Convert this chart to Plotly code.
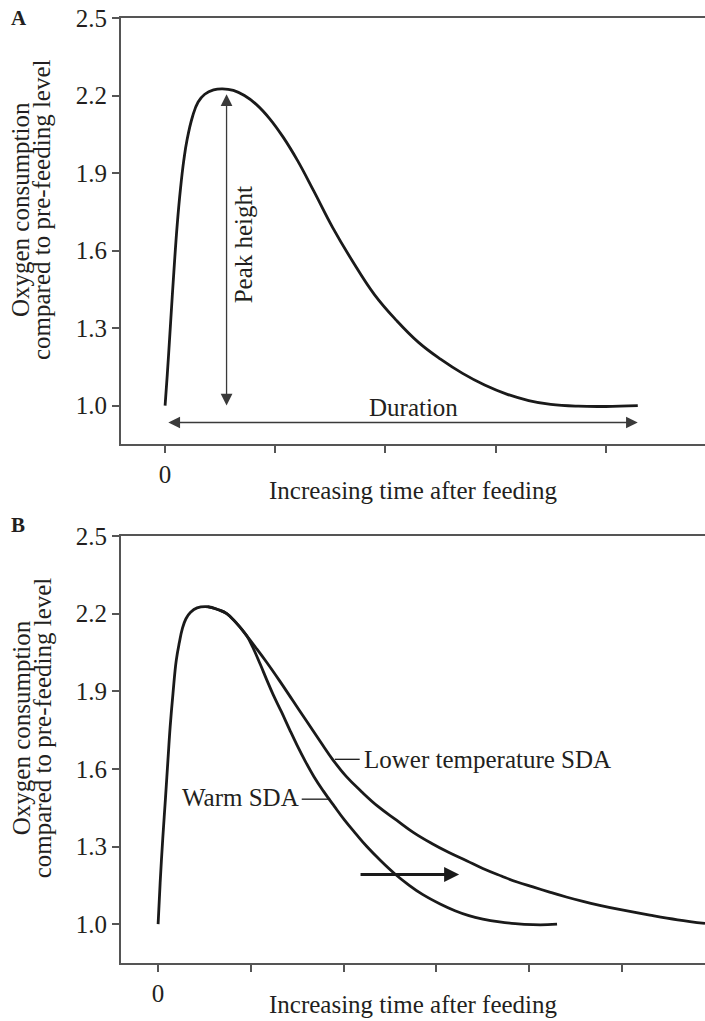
import plotly.graph_objects as go

# ---------------- data ----------------
# Panel A: single SDA curve (time in tick units after feeding, O2 relative to pre-feeding)
time_a = [0, 0.02, 0.05, 0.08, 0.11, 0.14, 0.17, 0.2, 0.25, 0.3, 0.36, 0.44, 0.52, 0.62,
          0.72, 0.83, 0.95, 1.07, 1.2, 1.35, 1.52, 1.7, 1.9, 2.1, 2.3, 2.5, 2.7, 2.9, 3.1,
          3.3, 3.5, 3.75, 4.0, 4.29]
o2_a = [1.0, 1.12, 1.32, 1.52, 1.70, 1.84, 1.95, 2.03, 2.12, 2.175, 2.205, 2.222, 2.226,
        2.22, 2.20, 2.165, 2.11, 2.04, 1.95, 1.83, 1.69, 1.56, 1.43, 1.33, 1.245, 1.18,
        1.125, 1.08, 1.045, 1.02, 1.005, 0.998, 0.997, 1.0]

# Panel B: warm SDA
time_warm = [0, 0.022, 0.05, 0.08, 0.106, 0.13, 0.16, 0.196, 0.23, 0.26, 0.30, 0.35, 0.42,
             0.537, 0.65, 0.74, 0.84, 0.95, 1.02, 1.1, 1.17, 1.24, 1.33, 1.42, 1.5, 1.58,
             1.68, 1.78, 1.9, 2.01, 2.13, 2.25, 2.4, 2.55, 2.7, 2.85, 3.04, 3.2, 3.35, 3.5,
             3.68, 3.85, 4.04, 4.2, 4.30]
o2_warm = [1.0, 1.16, 1.33, 1.49, 1.634, 1.763, 1.89, 2.02, 2.09, 2.14, 2.18, 2.205, 2.222,
           2.2265, 2.215, 2.20, 2.165, 2.117, 2.07, 2.005, 1.945, 1.887, 1.82, 1.75, 1.69,
           1.634, 1.57, 1.515, 1.455, 1.402, 1.35, 1.30, 1.245, 1.195, 1.152, 1.115, 1.078,
           1.052, 1.033, 1.02, 1.009, 1.002, 0.998, 0.998, 1.0]

# Panel B: lower temperature SDA (shares the peak, then decays more slowly)
time_low = [0.537, 0.65, 0.74, 0.84, 0.95, 1.05, 1.17, 1.31, 1.45, 1.6, 1.75, 1.886, 2.03,
            2.19, 2.37, 2.57, 2.75, 2.95, 3.13, 3.325, 3.5, 3.7, 3.87, 4.04, 4.22, 4.4,
            4.58, 4.76, 5.0, 5.3, 5.6, 5.895]
o2_low = [2.2265, 2.215, 2.20, 2.165, 2.117, 2.07, 2.012, 1.94, 1.865, 1.785, 1.705, 1.634,
          1.57, 1.513, 1.455, 1.402, 1.355, 1.312, 1.278, 1.245, 1.215, 1.186, 1.163, 1.144,
          1.124, 1.105, 1.088, 1.073, 1.055, 1.035, 1.017, 1.003]

# axis ticks
y_ticks = [1.0, 1.3, 1.6, 1.9, 2.2, 2.5]
y_ticklabels = ["1.0", "1.3", "1.6", "1.9", "2.2", "2.5"]
x_ticks_a = [0, 1, 2, 3, 4]
x_ticks_b = [0, 1, 2, 3, 4, 5]

# annotation anchors (data units)
peak_arrow_t = [0.558, 0.558]
peak_arrow_v = [2.205, 0.995]
duration_arrow_t = [0.016, 4.29]
duration_arrow_v = [0.935, 0.935]
shift_arrow_t = [2.166, 3.245]
shift_arrow_v = [1.192, 1.192]
leader_low_t = [1.905, 2.173]
leader_low_v = [1.637, 1.637]
leader_warm_t = [1.548, 1.855]
leader_warm_v = [1.483, 1.483]

# ---------------- styling ----------------
FONT = "Liberation Serif"
TXT = "#231f20"
AXC = "#555555"
CURVE = "#1a1a1a"
ARR = "#3a3a3a"
FS = 25

fig = go.Figure()

curve_style = dict(color=CURVE, width=2.8, shape="spline", smoothing=1.2)

fig.add_trace(go.Scatter(x=time_a, y=o2_a, mode="lines", line=curve_style,
                         xaxis="x", yaxis="y", showlegend=False, hoverinfo="skip"))
fig.add_trace(go.Scatter(x=time_warm, y=o2_warm, mode="lines", line=curve_style,
                         xaxis="x2", yaxis="y2", showlegend=False, hoverinfo="skip"))
fig.add_trace(go.Scatter(x=time_low, y=o2_low, mode="lines", line=curve_style,
                         xaxis="x2", yaxis="y2", showlegend=False, hoverinfo="skip"))
# leader lines for labels
for lt, lv in [(leader_low_t, leader_low_v), (leader_warm_t, leader_warm_v)]:
    fig.add_trace(go.Scatter(x=lt, y=lv, mode="lines", line=dict(color=CURVE, width=1.3),
                             xaxis="x2", yaxis="y2", showlegend=False, hoverinfo="skip"))

axis_common = dict(showgrid=False, zeroline=False, showline=True, linecolor=AXC,
                   linewidth=1.8, ticks="outside", ticklen=7, tickwidth=1.5,
                   tickcolor=AXC, automargin=False,
                   tickfont=dict(family=FONT, size=25, color=TXT))

A_dom = [0.5487, 1.0]
B_dom = [0.0, 0.4519]

fig.update_layout(
    template="none",
    width=705, height=1021,
    margin=dict(l=121, r=0, t=18, b=58, autoexpand=False),
    paper_bgcolor="white", plot_bgcolor="white",
    font=dict(family=FONT, size=FS, color=TXT),
    xaxis=dict(axis_common, domain=[0, 1], anchor="y", range=[-0.4, 4.9],
               tickvals=x_ticks_a, ticktext=["0"] + [""] * (len(x_ticks_a) - 1),
               mirror=True),
    yaxis=dict(axis_common, domain=A_dom, anchor="x", range=[0.85, 2.5],
               tickvals=y_ticks, ticktext=y_ticklabels),
    xaxis2=dict(axis_common, domain=[0, 1], anchor="y2", range=[-0.4, 5.895],
                tickvals=x_ticks_b, ticktext=["0"] + [""] * (len(x_ticks_b) - 1),
                mirror=True),
    yaxis2=dict(axis_common, domain=B_dom, anchor="x2", range=[0.85, 2.5],
                tickvals=y_ticks, ticktext=y_ticklabels),
)

ann = []
# double arrows in panel A
ann.append(dict(x=peak_arrow_t[0], y=peak_arrow_v[0], ax=peak_arrow_t[1], ay=peak_arrow_v[1],
                xref="x", yref="y", axref="x", ayref="y", text="", showarrow=True,
                arrowhead=2, startarrowhead=2, arrowside="end+start", arrowwidth=1.3,
                arrowsize=1.8, startarrowsize=1.8, arrowcolor=ARR, standoff=0, startstandoff=0))
ann.append(dict(x=duration_arrow_t[1], y=duration_arrow_v[1], ax=duration_arrow_t[0],
                ay=duration_arrow_v[0], xref="x", yref="y", axref="x", ayref="y", text="",
                showarrow=True, arrowhead=2, startarrowhead=2, arrowside="end+start",
                arrowwidth=1.3, arrowsize=1.8, startarrowsize=1.8, arrowcolor=ARR,
                standoff=0, startstandoff=0))
# shift arrow in panel B
ann.append(dict(x=shift_arrow_t[1], y=shift_arrow_v[1], ax=shift_arrow_t[0], ay=shift_arrow_v[0],
                xref="x2", yref="y2", axref="x2", ayref="y2", text="", showarrow=True,
                arrowhead=2, arrowwidth=3, arrowsize=1.0, arrowcolor=CURVE, standoff=0))
# text labels
ann.append(dict(x=0.72, y=1.622, xref="x", yref="y", text="Peak height", textangle=-90,
                showarrow=False, xanchor="center", yanchor="middle",
                font=dict(family=FONT, size=FS, color=TXT)))
ann.append(dict(x=2.255, y=0.995, xref="x", yref="y", text="Duration",
                showarrow=False, xanchor="center", yanchor="middle",
                font=dict(family=FONT, size=FS, color=TXT)))
ann.append(dict(x=leader_low_t[1] + 0.02, y=leader_low_v[1], xref="x2", yref="y2",
                text="Lower temperature SDA", showarrow=False, xanchor="left",
                yanchor="middle", font=dict(family=FONT, size=FS, color=TXT)))
ann.append(dict(x=leader_warm_t[0] - 0.01, y=leader_warm_v[0] + 0.005, xref="x2", yref="y2",
                text="Warm SDA", showarrow=False, xanchor="right",
                yanchor="middle", font=dict(family=FONT, size=FS, color=TXT)))

# axis titles and panel letters
for xr, yr, ty in [("x domain", "y domain", -0.108), ("x2 domain", "y2 domain", -0.097)]:
    ann.append(dict(x=0.5, y=ty, xref=xr, yref=yr, text="Increasing time after feeding",
                    showarrow=False, xanchor="center", yanchor="middle",
                    font=dict(family=FONT, size=FS, color=TXT)))
    ann.append(dict(x=-0.171, y=0.55, xref=xr, yref=yr, text="Oxygen consumption",
                    textangle=-90, showarrow=False, xanchor="center", yanchor="middle",
                    font=dict(family=FONT, size=FS, color=TXT)))
    ann.append(dict(x=-0.135, y=0.55, xref=xr, yref=yr, text="compared to pre-feeding level",
                    textangle=-90, showarrow=False, xanchor="center", yanchor="middle",
                    font=dict(family=FONT, size=FS, color=TXT)))
ann.append(dict(x=-0.174, y=1.0, xref="x domain", yref="y domain", text="<b>A</b>",
                showarrow=False, xanchor="center", yanchor="middle",
                font=dict(family=FONT, size=21, color=TXT)))
ann.append(dict(x=-0.177, y=1.026, xref="x2 domain", yref="y2 domain", text="<b>B</b>",
                showarrow=False, xanchor="center", yanchor="middle",
                font=dict(family=FONT, size=21, color=TXT)))

fig.update_layout(annotations=ann)
fig.write_html("out.html", config={"displayModeBar": False},
               post_script="document.body.style.margin='0';document.body.style.padding='0';")
